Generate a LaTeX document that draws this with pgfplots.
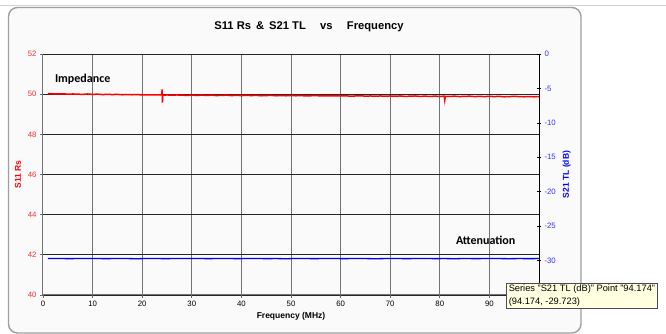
\documentclass[border=0pt]{standalone}
\usepackage{pgfplots}
\pgfplotsset{compat=1.18}
\usepackage{fontspec}
\setmainfont{Liberation Sans}
\newfontfamily\calib{Carlito}
\definecolor{tipfill}{HTML}{FFFFE1}
\definecolor{redtick}{HTML}{FF3030}
\definecolor{bluetick}{HTML}{3030FF}
\begin{document}
\begin{tikzpicture}[x=1pt,y=1pt]
\path[use as bounding box] (0,0) rectangle (666,334);
\fill[white] (0,0) rectangle (666,334);
\draw[gray!35, line width=0.8pt] (0,329) -- (666,329);
\draw[fill=black!2, draw=gray!75, line width=1.4pt, rounded corners=9pt] (8.5,1) rectangle (581,326.5);
\node[font=\bfseries\fontsize{11.2}{13}\selectfont] at (309,307) {S11 Rs \,\&\, S21 TL \quad vs \quad Frequency};
\begin{axis}[
  at={(43pt,39pt)}, anchor=south west, scale only axis,
  width=496pt, height=241pt,
  xmin=0, xmax=100, ymin=40, ymax=52,
  xtick={0,10,...,100}, ytick={40,42,...,52},
  xticklabels={0,10,20,30,40,50,60,70,80,90,{}},
  axis x line*=bottom, axis y line*=left,
  axis line style={black!55, line width=1pt, -},
  grid=major,
  x grid style={black!55, line width=1pt},
  y grid style={black!85, line width=0.8pt},
  tick align=outside, major tick length=3pt,
  tick style={black!60, line width=0.7pt},
  /pgf/number format/assume math mode=true,
  xticklabel style={font=\fontsize{7.8}{9}\selectfont, black},
  yticklabel style={font=\fontsize{7.8}{9}\selectfont, redtick},
  xlabel={Frequency (MHz)}, xlabel style={font=\bfseries\fontsize{8.5}{10}\selectfont, yshift=2pt},
  ylabel={S11 Rs}, ylabel style={font=\bfseries\fontsize{8.5}{10}\selectfont, red},
  clip=true,
]
\addplot[red, line width=1.5pt] coordinates {
(1,50.03) (2,50.02) (3,50.01) (4,50.02) (5,50.00) (6,50.01) (7,50.00) (8,49.99) (9,50.01) (10,49.99)
(11,50.00) (12,49.98) (13,49.99) (14,49.98) (15,49.99) (16,49.97) (17,49.98) (18,49.97) (19,49.98) (20,49.96)
(21,49.97) (22,49.96) (23,49.97) (23.95,49.96) (24.02,50.24) (24.08,49.58) (24.15,49.95) (25,49.96) (26,49.95) (27,49.96)
(28,49.95) (29,49.94) (30,49.95) (31,49.94) (32,49.95) (33,49.94) (34,49.95) (35,49.93) (36,49.94) (37,49.95)
(38,49.93) (39,49.94) (40,49.93) (41,49.94) (42,49.93) (43,49.94) (44,49.92) (45,49.93) (46,49.94) (47,49.92)
(48,49.93) (49,49.92) (50,49.93) (51,49.92) (52,49.93) (53,49.91) (54,49.92) (55,49.93) (56,49.91) (57,49.92)
(58,49.91) (59,49.92) (60,49.91) (61,49.92) (62,49.90) (63,49.91) (64,49.92) (65,49.90) (66,49.91) (67,49.90)
(68,49.91) (69,49.90) (70,49.91) (71,49.90) (72,49.91) (73,49.89) (74,49.90) (75,49.91) (76,49.89) (77,49.90)
(78,49.89) (79,49.90) (80,49.89) (80.9,49.90) (81.0,49.71) (81.1,49.89) (82,49.89) (83,49.90) (84,49.88) (85,49.89)
(86,49.90) (87,49.88) (88,49.89) (89,49.88) (90,49.89) (91,49.88) (92,49.89) (93,49.87) (94,49.88) (95,49.89)
(96,49.88) (97,49.87) (98,49.88) (99,49.87) (100,49.88)
};
\end{axis}
\begin{axis}[
  at={(43pt,39pt)}, anchor=south west, scale only axis,
  width=496pt, height=241pt,
  xmin=0, xmax=100, ymin=-35, ymax=0,
  ytick={-35,-30,...,0},
  yticklabels={{},-30,-25,-20,-15,-10,-5,0},
  axis x line=none, axis y line*=right,
  axis line style={black, line width=1pt, -},
  tick align=center, major tick length=4pt,
  tick style={black, line width=0.7pt},
  /pgf/number format/assume math mode=true,
  yticklabel style={font=\fontsize{7.8}{9}\selectfont, bluetick},
  ylabel={S21 TL (dB)}, ylabel style={font=\bfseries\fontsize{8.5}{10}\selectfont, blue},
]
\addplot[blue, line width=1.3pt] coordinates {
(1,-29.71) (3,-29.70) (5,-29.72) (7,-29.71) (9,-29.69) (11,-29.71) (13,-29.72) (15,-29.70) (17,-29.71) (19,-29.73)
(21,-29.70) (23,-29.71) (25,-29.72) (27,-29.70) (29,-29.71) (31,-29.69) (33,-29.72) (35,-29.71) (37,-29.70) (39,-29.72)
(41,-29.71) (43,-29.70) (45,-29.72) (47,-29.71) (49,-29.73) (51,-29.70) (53,-29.71) (55,-29.72) (57,-29.70) (59,-29.71)
(61,-29.72) (63,-29.70) (65,-29.71) (67,-29.73) (69,-29.71) (71,-29.70) (73,-29.72) (75,-29.71) (77,-29.70) (79,-29.72)
(81,-29.71) (83,-29.73) (85,-29.70) (87,-29.72) (89,-29.71) (91,-29.70) (93,-29.72) (94.174,-29.723) (96,-29.71) (98,-29.72) (100,-29.71)
};
\end{axis}
\node[font=\calib\bfseries\fontsize{12}{14}\selectfont, anchor=west] at (51.5,255) {Impedance};
\node[font=\calib\bfseries\fontsize{12}{14}\selectfont, anchor=west] at (452.5,93.5) {Attenuation};
\node[draw=black!70, fill=tipfill, line width=0.5pt, inner xsep=2.5pt, inner ysep=1.5pt, anchor=north west, align=left,
  font=\fontsize{9.3}{13}\selectfont] at (506,51) {Series "S21 TL (dB)" Point "94.174"\\(94.174, -29.723)};
\end{tikzpicture}
\end{document}
